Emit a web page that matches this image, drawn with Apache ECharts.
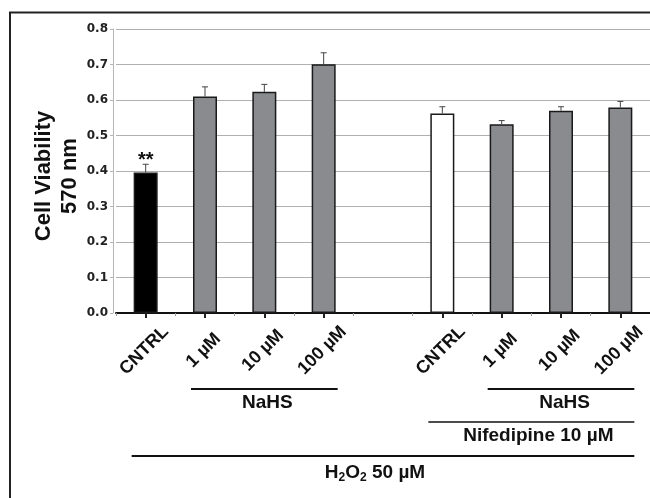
<!DOCTYPE html>
<html><head><meta charset="utf-8">
<script src="https://cdn.jsdelivr.net/npm/echarts@6/dist/echarts.min.js"></script>
<style>html,body{margin:0;padding:0;background:#fff}#c{width:650px;height:498px}</style>
</head><body><div id="c"></div>
<script>
// ---- data ----
const categories = ['CNTRL', '1 µM', '10 µM', '100 µM', '', 'CNTRL', '1 µM', '10 µM', '100 µM'];
const viability = [0.396, 0.610, 0.623, 0.701, '-', 0.562, 0.532, 0.570, 0.579];
const errorUp = [0.023, 0.027, 0.021, 0.032, '-', 0.019, 0.010, 0.011, 0.017];
const barGroup = ['h2o2', 'nahs', 'nahs', 'nahs', '', 'nifedipine', 'nahs', 'nahs', 'nahs'];
const significance = ['**', '', '', '', '', '', '', '', ''];
const yTickLabels = ['0.0', '0.1', '0.2', '0.3', '0.4', '0.5', '0.6', '0.7', '0.8'];
const bracketLabels = ['NaHS', 'NaHS', 'Nifedipine 10 µM', 'H{sub|2}O{sub|2} 50 µM'];
const bracketFrom = [1, 6, 5, 0];
const bracketTo = [3, 8, 8, 8];
const bracketRow = [0, 0, 1, 2];

// ---- styles ----
const FONT = 'Liberation Sans, Arial, Helvetica, sans-serif';
const TICKFONT = 'DejaVu Sans, Verdana, sans-serif';
const fillByGroup = { h2o2: '#000000', nahs: '#8a8b8f', nifedipine: '#ffffff' };
const rowLineY = [389, 422, 456];
const rowTextY = [403, 436, 473];
const rowLineW = [2, 1.6, 2];
const textDx = [3, 3.5, 7, -8];

const chart = echarts.init(document.getElementById('c'), null, { renderer: 'canvas' });

const option = {
  animation: false,
  backgroundColor: '#fff',
  grid: { left: 116, right: 0, top: 29, bottom: 185, containLabel: false },
  xAxis: [{
    type: 'category',
    data: categories,
    position: 'bottom',
    axisLine: { show: true, lineStyle: { color: '#111', width: 2 } },
    axisTick: { show: true, alignWithLabel: true, length: 5, lineStyle: { color: '#222', width: 2 },
      interval: (i, v) => v !== '' },
    axisLabel: {
      interval: 0, rotate: 45, margin: 36, align: 'center', verticalAlign: 'middle',
      padding: [0, 4, 4, 0],
      fontFamily: FONT, fontSize: 18, fontWeight: 'bold', color: '#111'
    },
    splitLine: { show: false }
  }, {
    type: 'category',
    data: categories,
    position: 'bottom',
    axisLine: { show: false },
    axisTick: { show: true, alignWithLabel: false, interval: 0, length: 3, lineStyle: { color: '#999', width: 1 } },
    axisLabel: { show: false },
    splitLine: { show: false }
  }],
  yAxis: {
    type: 'value', min: 0, max: 0.8, interval: 0.1, offset: 3,
    name: 'Cell Viability\n570 nm',
    nameLocation: 'middle', nameRotate: 90, nameGap: 30, nameMoveOverlap: false,
    nameTextStyle: { fontFamily: FONT, fontSize: 22, fontWeight: 'bold', color: '#111', lineHeight: 26,
      padding: [0, 10, 0, 0] },
    axisLine: { show: true, lineStyle: { color: '#b5b5b5', width: 1 } },
    axisTick: { show: true, length: 3, lineStyle: { color: '#b5b5b5', width: 1 } },
    axisLabel: {
      margin: 5, fontFamily: TICKFONT, fontSize: 12, fontWeight: 'bold', color: '#222',
      formatter: (v) => yTickLabels[Math.round(v * 10)]
    },
    splitLine: { show: true, lineStyle: { color: '#b0b0b0', width: 1 } }
  },
  series: [{
    type: 'bar',
    xAxisIndex: 0,
    barWidth: 24,
    data: viability.map((v, i) => ({
      value: v,
      itemStyle: { color: fillByGroup[barGroup[i]] || '#fff', borderColor: '#1a1a1a', borderWidth: 1.5 }
    })),
    label: {
      show: true, position: 'top', distance: 2,
      formatter: (p) => significance[p.dataIndex],
      fontFamily: FONT, fontSize: 20, fontWeight: 'bold', color: '#111'
    },
    z: 2
  }, {
    type: 'custom',
    xAxisIndex: 0,
    z: 3,
    data: viability.map((v, i) => v === '-' ? null : [i, v, errorUp[i]]).filter(Boolean),
    renderItem: (params, api) => {
      const i = api.value(0), v = api.value(1), e = api.value(2);
      const b = api.coord([i, v]);
      const t = api.coord([i, v + e]);
      const st = { stroke: '#444', lineWidth: 1 };
      return {
        type: 'group', children: [
          { type: 'line', shape: { x1: b[0], y1: b[1], x2: t[0], y2: t[1] }, style: st },
          { type: 'line', shape: { x1: t[0] - 3, y1: t[1], x2: t[0] + 3, y2: t[1] }, style: st }
        ]
      };
    }
  }]
};

chart.setOption(option);

const px = (i) => chart.convertToPixel({ xAxisIndex: 0 }, i);
const graphics = [{
  type: 'rect', silent: true,
  shape: { x: 10, y: 12.5, width: 700, height: 600 },
  style: { fill: 'none', stroke: '#222', lineWidth: 2 }
}];
bracketLabels.forEach((lab, k) => {
  const x1 = px(bracketFrom[k]) - 14;
  const x2 = px(bracketTo[k]) + 14;
  const r = bracketRow[k];
  graphics.push({
    type: 'line', silent: true,
    shape: { x1: x1, y1: rowLineY[r], x2: x2, y2: rowLineY[r] },
    style: { stroke: '#111', lineWidth: rowLineW[r] }
  });
  graphics.push({
    type: 'text', silent: true,
    x: (x1 + x2) / 2 + textDx[k], y: rowTextY[r],
    style: {
      text: lab, align: 'center', verticalAlign: 'middle',
      fontFamily: FONT, fontSize: 19, fontWeight: 'bold', fill: '#111',
      rich: { sub: { fontFamily: FONT, fontSize: 12, fontWeight: 'bold', fill: '#111', padding: [10, 0, 0, 0] } }
    }
  });
});
chart.setOption({ graphic: graphics });
</script>
</body></html>
